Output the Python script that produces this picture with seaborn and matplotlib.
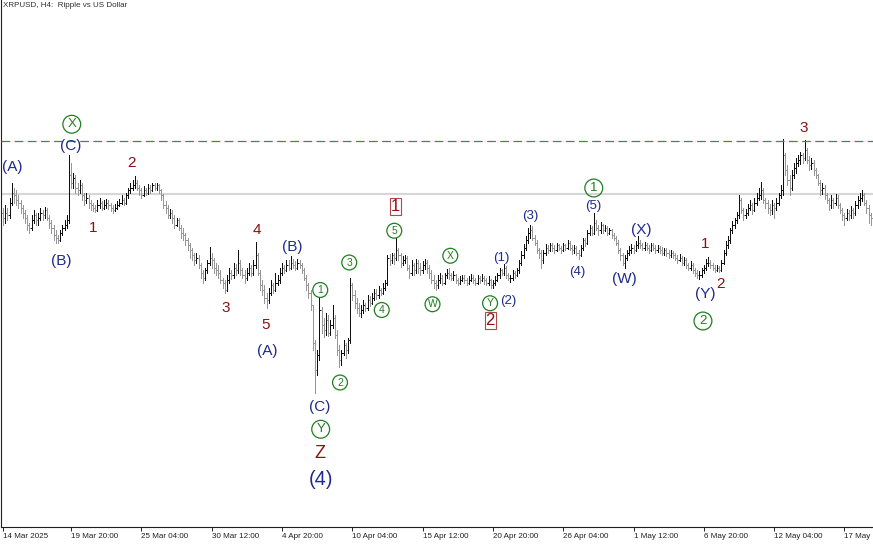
import matplotlib
matplotlib.use('Agg')
import matplotlib.pyplot as plt
import matplotlib.transforms as mtransforms
import numpy as np
import pandas as pd
import seaborn as sns

# XRPUSD H4 bars, prices in thousandths of a dollar
first_open = 2350
closes = [
    2330, 2350, 2340, 2390, 2430, 2420, 2400, 2390, 2370, 2350,
    2330, 2300, 2290, 2320, 2340, 2320, 2330, 2350, 2340, 2360,
    2330, 2310, 2290, 2260, 2250, 2240, 2270, 2290, 2300, 2320,
    2500, 2470, 2490, 2450, 2440, 2460, 2420, 2400, 2410, 2390,
    2380, 2370, 2360, 2380, 2390, 2370, 2380, 2390, 2380, 2370,
    2360, 2370, 2380, 2390, 2400, 2390, 2420, 2440, 2450, 2460,
    2470, 2450, 2440, 2420, 2440, 2430, 2450, 2440, 2460, 2450,
    2460, 2440, 2420, 2380, 2370, 2340, 2350, 2330, 2300, 2320,
    2290, 2270, 2260, 2240, 2220, 2200, 2180, 2160, 2170, 2140,
    2110, 2090, 2120, 2150, 2170, 2160, 2130, 2120, 2110, 2080,
    2070, 2040, 2080, 2110, 2100, 2130, 2120, 2150, 2120, 2100,
    2090, 2110, 2130, 2110, 2140, 2180, 2110, 2060, 2040, 2010,
    2000, 2030, 2060, 2040, 2070, 2080, 2110, 2130, 2120, 2140,
    2130, 2150, 2140, 2130, 2150, 2140, 2120, 2090, 2060, 2030,
    1980, 1830, 1720, 1780, 1960, 1900, 1880, 1920, 1870, 1900,
    1930, 1860, 1800, 1760, 1790, 1820, 1800, 1840, 2060, 2020,
    1990, 1970, 1950, 1960, 1980, 1970, 2000, 1990, 2010, 2030,
    2020, 2040, 2030, 2050, 2070, 2170, 2160, 2180, 2170, 2200,
    2180, 2150, 2160, 2170, 2130, 2110, 2140, 2120, 2150, 2130,
    2120, 2140, 2150, 2130, 2110, 2080, 2070, 2060, 2080, 2090,
    2070, 2100, 2110, 2100, 2090, 2100, 2080, 2070, 2080, 2090,
    2080, 2070, 2080, 2090, 2080, 2070, 2090, 2080, 2090, 2080,
    2070, 2080, 2060, 2070, 2080, 2100, 2120, 2110, 2130, 2100,
    2090, 2090, 2110, 2100, 2120, 2150, 2180, 2210, 2240, 2270,
    2280, 2250, 2230, 2200, 2190, 2160, 2190, 2210, 2200, 2220,
    2210, 2200, 2220, 2210, 2200, 2220, 2210, 2230, 2210, 2200,
    2210, 2190, 2180, 2210, 2240, 2230, 2270, 2290, 2270, 2310,
    2290, 2280, 2300, 2280, 2290, 2270, 2280, 2260, 2250, 2230,
    2200, 2180, 2150, 2170, 2190, 2200, 2210, 2200, 2220, 2230,
    2220, 2210, 2220, 2210, 2200, 2220, 2210, 2200, 2210, 2200,
    2190, 2200, 2190, 2180, 2190, 2180, 2170, 2160, 2170, 2150,
    2160, 2140, 2130, 2140, 2120, 2110, 2100, 2100, 2120, 2130,
    2150, 2150, 2140, 2130, 2120, 2130, 2120, 2150, 2190, 2220,
    2240, 2280, 2300, 2320, 2340, 2400, 2360, 2340, 2350, 2370,
    2380, 2360, 2390, 2410, 2420, 2440, 2400, 2390, 2370, 2360,
    2380, 2370, 2390, 2420, 2440, 2580, 2520, 2480, 2450, 2500,
    2530, 2550, 2560, 2580, 2570, 2600, 2560, 2540, 2550, 2520,
    2500, 2470, 2440, 2450, 2420, 2400, 2380, 2400, 2390, 2410,
    2380, 2360, 2340, 2330, 2350, 2340, 2360, 2350, 2380, 2400,
    2410, 2420, 2390, 2370, 2340, 2330,
]
highs = [
    2370, 2380, 2370, 2410, 2468, 2450, 2440, 2420, 2400, 2380,
    2360, 2340, 2310, 2340, 2360, 2350, 2350, 2370, 2360, 2372,
    2370, 2340, 2320, 2300, 2280, 2260, 2280, 2300, 2320, 2340,
    2580, 2548, 2510, 2500, 2470, 2480, 2470, 2430, 2430, 2420,
    2400, 2390, 2380, 2400, 2408, 2395, 2400, 2405, 2400, 2390,
    2380, 2385, 2395, 2405, 2420, 2410, 2430, 2450, 2470, 2480,
    2496, 2480, 2460, 2450, 2455, 2450, 2465, 2460, 2470, 2468,
    2468, 2465, 2445, 2425, 2395, 2380, 2365, 2360, 2340, 2330,
    2330, 2300, 2290, 2270, 2250, 2230, 2210, 2190, 2190, 2180,
    2150, 2120, 2130, 2160, 2212, 2190, 2170, 2150, 2140, 2120,
    2090, 2080, 2100, 2130, 2120, 2150, 2145, 2200, 2160, 2130,
    2120, 2130, 2150, 2140, 2160, 2232, 2190, 2120, 2080, 2060,
    2030, 2050, 2080, 2070, 2108, 2100, 2130, 2150, 2140, 2160,
    2160, 2176, 2165, 2155, 2165, 2160, 2150, 2130, 2100, 2070,
    2040, 1980, 1840, 1800, 2008, 1972, 1930, 1950, 1940, 1920,
    1980, 1940, 1880, 1820, 1800, 1840, 1830, 1850, 2088, 2070,
    2040, 2010, 1990, 1980, 2000, 1990, 2020, 2015, 2030, 2045,
    2045, 2055, 2050, 2068, 2080, 2180, 2185, 2190, 2188, 2248,
    2210, 2190, 2175, 2180, 2178, 2140, 2160, 2150, 2165, 2160,
    2150, 2155, 2165, 2160, 2140, 2120, 2100, 2080, 2100, 2110,
    2100, 2110, 2125, 2128, 2110, 2115, 2105, 2090, 2095, 2100,
    2100, 2090, 2095, 2105, 2100, 2090, 2100, 2095, 2105, 2095,
    2090, 2095, 2085, 2080, 2095, 2110, 2130, 2125, 2144, 2135,
    2110, 2100, 2120, 2115, 2130, 2160, 2195, 2225, 2255, 2290,
    2300, 2295, 2260, 2240, 2210, 2200, 2200, 2225, 2220, 2230,
    2228, 2220, 2230, 2225, 2215, 2228, 2225, 2240, 2235, 2220,
    2220, 2215, 2200, 2220, 2250, 2250, 2280, 2300, 2295, 2348,
    2320, 2300, 2312, 2305, 2300, 2295, 2290, 2285, 2270, 2255,
    2240, 2210, 2190, 2180, 2200, 2215, 2225, 2220, 2235, 2256,
    2240, 2230, 2232, 2228, 2220, 2230, 2228, 2220, 2222, 2218,
    2212, 2210, 2208, 2200, 2200, 2198, 2190, 2180, 2185, 2178,
    2172, 2168, 2150, 2155, 2148, 2130, 2120, 2115, 2130, 2140,
    2165, 2172, 2160, 2150, 2140, 2140, 2135, 2160, 2200, 2235,
    2255, 2290, 2315, 2330, 2352, 2420, 2410, 2370, 2365, 2385,
    2400, 2390, 2410, 2430, 2450, 2472, 2450, 2410, 2400, 2385,
    2400, 2390, 2410, 2430, 2460, 2644, 2590, 2540, 2500, 2520,
    2550, 2570, 2580, 2592, 2590, 2640, 2610, 2575, 2570, 2560,
    2530, 2505, 2480, 2470, 2460, 2430, 2410, 2420, 2410, 2425,
    2420, 2390, 2370, 2350, 2365, 2360, 2375, 2370, 2395, 2415,
    2430, 2440, 2430, 2400, 2380, 2350,
]
lows = [
    2300, 2310, 2320, 2330, 2380, 2390, 2380, 2370, 2350, 2330,
    2310, 2280, 2268, 2280, 2310, 2300, 2300, 2320, 2320, 2330,
    2320, 2290, 2270, 2240, 2230, 2228, 2235, 2260, 2280, 2290,
    2310, 2450, 2450, 2430, 2420, 2430, 2400, 2380, 2390, 2370,
    2360, 2355, 2352, 2355, 2370, 2360, 2365, 2370, 2365, 2355,
    2350, 2355, 2365, 2375, 2385, 2380, 2385, 2410, 2430, 2440,
    2450, 2440, 2420, 2408, 2415, 2420, 2425, 2430, 2435, 2440,
    2440, 2430, 2400, 2370, 2350, 2330, 2330, 2310, 2290, 2295,
    2280, 2250, 2240, 2220, 2200, 2170, 2160, 2140, 2150, 2130,
    2090, 2068, 2080, 2110, 2140, 2130, 2110, 2100, 2090, 2070,
    2050, 2028, 2035, 2070, 2085, 2090, 2100, 2110, 2100, 2090,
    2070, 2080, 2100, 2095, 2100, 2130, 2100, 2040, 2020, 1990,
    1968, 1990, 2020, 2030, 2035, 2060, 2070, 2100, 2110, 2115,
    2120, 2125, 2130, 2120, 2125, 2130, 2110, 2080, 2040, 2010,
    1960, 1800, 1628, 1700, 1760, 1870, 1852, 1860, 1855, 1860,
    1890, 1850, 1780, 1732, 1740, 1780, 1770, 1790, 1830, 2000,
    1970, 1950, 1935, 1932, 1950, 1955, 1960, 1975, 1985, 2000,
    2005, 2010, 2020, 2025, 2040, 2060, 2140, 2150, 2145, 2160,
    2160, 2132, 2140, 2150, 2120, 2090, 2100, 2100, 2110, 2110,
    2100, 2110, 2125, 2110, 2090, 2070, 2050, 2040, 2050, 2070,
    2060, 2065, 2090, 2085, 2080, 2080, 2070, 2060, 2065, 2075,
    2070, 2060, 2065, 2075, 2070, 2060, 2065, 2070, 2075, 2065,
    2060, 2060, 2050, 2048, 2060, 2075, 2090, 2100, 2100, 2090,
    2080, 2072, 2080, 2090, 2095, 2110, 2140, 2170, 2200, 2230,
    2250, 2240, 2220, 2190, 2170, 2128, 2150, 2180, 2190, 2195,
    2195, 2190, 2195, 2200, 2190, 2195, 2200, 2205, 2200, 2185,
    2190, 2180, 2164, 2175, 2200, 2215, 2225, 2260, 2260, 2265,
    2280, 2260, 2270, 2270, 2275, 2260, 2265, 2250, 2240, 2220,
    2190, 2160, 2140, 2128, 2160, 2180, 2190, 2190, 2195, 2210,
    2210, 2200, 2200, 2200, 2190, 2195, 2200, 2190, 2192, 2190,
    2180, 2182, 2178, 2170, 2172, 2168, 2160, 2150, 2155, 2140,
    2140, 2130, 2120, 2120, 2110, 2095, 2090, 2084, 2092, 2110,
    2120, 2135, 2130, 2120, 2112, 2115, 2112, 2115, 2145, 2180,
    2210, 2230, 2270, 2290, 2310, 2330, 2350, 2320, 2330, 2340,
    2360, 2345, 2355, 2380, 2400, 2405, 2390, 2370, 2350, 2340,
    2345, 2328, 2360, 2380, 2410, 2420, 2500, 2460, 2420, 2440,
    2490, 2510, 2535, 2545, 2550, 2560, 2550, 2520, 2525, 2500,
    2490, 2460, 2420, 2425, 2405, 2390, 2360, 2370, 2370, 2380,
    2370, 2350, 2320, 2300, 2320, 2320, 2330, 2330, 2340, 2370,
    2380, 2395, 2380, 2350, 2310, 2300,
]

# horizontal levels (dollars)
resistance_level = 2.636
last_price_level = 2.426

# time axis: first bar and bars carrying a date label
first_bar_time = pd.Timestamp('2025-03-14 16:00')
label_bars = [0, 31, 63, 95, 127, 159, 191, 223, 255, 287, 319, 351, 383]

# wave labels: text, bar position, price (dollars)
navy_labels = [('(A)', 4.4, 2.530), ('(B)', 26.4, 2.156), ('(C)', 30.9, 2.616),
               ('(A)', 120.5, 1.796), ('(B)', 131.7, 2.210), ('(C)', 144.3, 1.574),
               ('(W)', 282.9, 2.082), ('(X)', 290.7, 2.281), ('(Y)', 319.8, 2.024)]
navy_small = [('(1)', 226.8, 2.170), ('(2)', 229.9, 1.996), ('(3)', 240.2, 2.337),
              ('(4)', 261.6, 2.110), ('(5)', 268.7, 2.377)]
navy_big = [('(4)', 144.7, 1.282)]
red_labels = [('1', 41.1, 2.290), ('2', 58.3, 2.548), ('3', 101.2, 1.969),
              ('4', 115.5, 2.281), ('5', 119.3, 1.899), ('1', 319.8, 2.223),
              ('2', 326.4, 2.064), ('3', 364.6, 2.690)]
red_big = [('Z', 144.3, 1.386)]
boxed_labels = [('1', 178.6, 2.373), ('2', 221.8, 1.918)]
circle_small = [('1', 144.4, 2.040), ('2', 153.4, 1.670), ('3', 157.6, 2.150),
                ('4', 172.4, 1.960), ('5', 178.1, 2.277), ('W', 195.5, 1.983),
                ('X', 203.6, 2.177), ('Y', 221.7, 1.987)]
circle_big = [('X', 31.3, 2.703), ('Y', 144.6, 1.483), ('1', 268.9, 2.448),
              ('2', 318.6, 1.916)]

sns.set_theme(style='white')
plt.rcParams['font.family'] = ['Liberation Sans', 'DejaVu Sans']

c = np.array(closes) / 1000
o = np.r_[first_open / 1000, c[:-1]]
h = np.maximum(np.array(highs) / 1000, np.maximum(o, c))
l = np.minimum(np.array(lows) / 1000, np.minimum(o, c))
x = np.arange(len(c))
up = c >= o

NAVY = '#1f2a8c'
RED = '#8b1010'
GREEN = '#1f7f1f'

fig = plt.figure(figsize=(8.73, 5.45), dpi=100)
ax = fig.add_axes([1 / 873, 18 / 545, 872 / 873, 527 / 545])

ax.axhline(last_price_level, color='#d6d6d6', lw=1.5, zorder=1)
ax.axhline(resistance_level, color='#3a8f3a', lw=0.9, dashes=(7, 3.5), zorder=4)

for mask, col in [(up, '#101010'), (~up, '#969696')]:
    ax.vlines(x[mask], l[mask], h[mask], colors=col, lw=0.6,
              antialiased=False, zorder=2)
    ax.hlines(o[mask], x[mask] - 0.45, x[mask], colors=col, lw=0.6,
              antialiased=False, zorder=2)
    ax.hlines(c[mask], x[mask], x[mask] + 0.45, colors=col, lw=0.6,
              antialiased=False, zorder=2)

def put(items, color, size):
    for t, bx, py in items:
        ax.text(bx, py, t, color=color, fontsize=size, ha='center',
                va='center', zorder=6)

put(navy_labels, NAVY, 11)
put(navy_small, NAVY, 9.5)
put(navy_big, NAVY, 14.5)
put(red_labels, RED, 11)
put(red_big, RED, 13)
put(circle_small, GREEN, 7.5)
put(circle_big, GREEN, 9.5)

for t, bx, py in boxed_labels:
    ax.text(bx, py, t, color=RED, fontsize=12, ha='center', va='center',
            zorder=6, bbox=dict(boxstyle='square,pad=0.05', fc='none',
                                ec='#b04848', lw=0.8))

for items, s in [(circle_small, 115), (circle_big, 165)]:
    ax.scatter([b for _, b, _ in items], [p for _, _, p in items], s=s,
               marker='o', facecolors='none', edgecolors=GREEN,
               linewidths=0.9, zorder=6)

ax.set_xlim(-0.91, 396.0)
ax.set_ylim(1.092, 3.2)
ax.set_yticks([])

times = [first_bar_time + pd.Timedelta(hours=4 * b) for b in label_bars]
tick_text = [f'{t.day} {t:%b %H:%M}' for t in times]
tick_text[0] = f'{times[0].day} {times[0]:%b %Y}'
tick_text[-1] = f'{times[-1].day} {times[-1]:%b}'  # clipped at the chart edge
ax.set_xticks(label_bars)
ax.set_xticklabels(tick_text, ha='left', fontsize=5.8, color='#202020')
shift = mtransforms.ScaledTranslation(2 / 100, 0, fig.dpi_scale_trans)
for lbl in ax.get_xticklabels():
    lbl.set_transform(lbl.get_transform() + shift)
ax.tick_params(axis='x', bottom=True, direction='out', length=3, width=0.7,
               pad=1.5, color='#202020')

sns.despine(ax=ax)
for side in ['left', 'bottom']:
    ax.spines[side].set_color('#202020')
    ax.spines[side].set_linewidth(0.8)

fig.text(3 / 873, 1 - 2 / 545, 'XRPUSD, H4:  Ripple vs US Dollar', ha='left',
         va='top', fontsize=5.8, color='#303030')

fig.savefig('out.png', dpi=100)
